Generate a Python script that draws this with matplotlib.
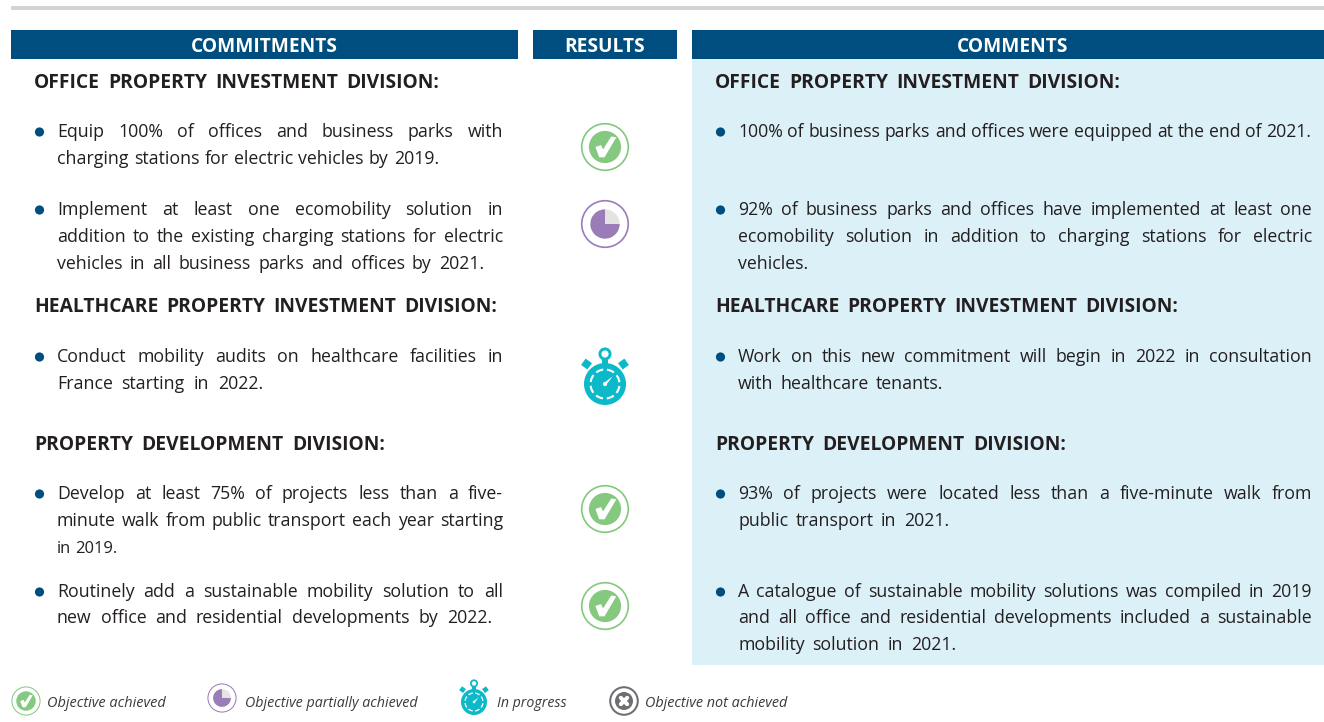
import matplotlib
matplotlib.use('Agg')
import matplotlib.pyplot as plt
from matplotlib.patches import Circle, Rectangle, Wedge, Polygon

NAVY = '#004E7F'
PANEL = '#DCF0F8'
GREY_BAR = '#D1D3D4'
INK = '#231F20'
GREEN = '#84C97F'
PURPLE = '#9A7CB8'
TEAL = '#0CB9C9'
DARK_GREY = '#6D6E71'

plt.rcParams['font.family'] = ['Open Sans', 'DejaVu Sans']

headers = ['COMMITMENTS', 'RESULTS', 'COMMENTS']
divisions = ['OFFICE PROPERTY INVESTMENT DIVISION:',
             'HEALTHCARE PROPERTY INVESTMENT DIVISION:',
             'PROPERTY DEVELOPMENT DIVISION:']
legend_labels = ['Objective achieved', 'Objective partially achieved',
                 'In progress', 'Objective not achieved']

# line text, y centre, right end of the line
left_lines = [
    ('Equip 100% of offices and business parks with', 131, 503),
    ('charging stations for electric vehicles by 2019.', 158, 439),
    ('Implement at least one ecomobility solution in', 209, 503),
    ('addition to the existing charging stations for electric', 236, 503),
    ('vehicles in all business parks and offices by 2021.', 263, 484),
    ('Conduct mobility audits on healthcare facilities in', 356, 503),
    ('France starting in 2022.', 383, 263),
    ('Develop at least 75% of projects less than a five-', 493, 503),
    ('minute walk from public transport each year starting', 520, 503),
    ('in 2019.', 547, 108),
    ('Routinely add a sustainable mobility solution to all', 591, 503),
    ('new office and residential developments by 2022.', 617, 492),
]
right_lines = [
    ('100% of business parks and offices were equipped at the end of 2021.', 131, 1311),
    ('92% of business parks and offices have implemented at least one', 209, 1312),
    ('ecomobility solution in addition to charging stations for electric', 236, 1312),
    ('vehicles.', 263, 812),
    ('Work on this new commitment will begin in 2022 in consultation', 356, 1312),
    ('with healthcare tenants.', 383, 943),
    ('93% of projects were located less than a five-minute walk from', 493, 1312),
    ('public transport in 2021.', 520, 949),
    ('A catalogue of sustainable mobility solutions was compiled in 2019', 591, 1312),
    ('and all office and residential developments included a sustainable', 617, 1312),
    ('mobility solution in 2021.', 644, 956),
]
left_bullets = [131, 209, 356, 493, 591]
right_bullets = [131, 209, 356, 493, 591]

fig = plt.figure(figsize=(13.24, 7.22), dpi=100)
ax = fig.add_axes([0, 0, 1, 1])
ax.set_xlim(0, 1324)
ax.set_ylim(722, 0)
ax.axis('off')
rend = fig.canvas.get_renderer()


def box(x0, y0, x1, y1, c):
    ax.add_patch(Rectangle((x0, y0), x1 - x0, y1 - y0, fc=c, ec='none'))


def word_w(s, size, **kw):
    t = ax.text(0, 0, s, fontsize=size, **kw)
    w = t.get_window_extent(rend).width
    t.remove()
    return w


def put_line(s, x0, x1, yc, size=12.8, **kw):
    # spread the words so the line runs from x0 to x1, like the justified original
    words = s.split(' ')
    natural = word_w(s, size, **kw)
    if natural > x1 - x0:
        size = max(size * (x1 - x0) / natural, size * 0.93)
    widths = [word_w(w, size, **kw) for w in words]
    gap = (x1 - x0 - sum(widths)) / max(len(words) - 1, 1)
    gap = max(gap, size * 0.3)  # words must never touch
    x = x0
    for w, ww in zip(words, widths):
        ax.text(x, yc + 6, w, fontsize=size, color=INK, ha='left', va='baseline', **kw)
        x += ww + gap


def ok_icon(cx, cy, r):
    ax.add_patch(Circle((cx, cy), r * 0.97, fc='white', ec=GREEN, lw=r * 0.05))
    ax.add_patch(Circle((cx, cy), r * 0.67, fc=GREEN, ec='none'))
    pts = [(-0.40, 0.0), (-0.17, -0.08), (-0.08, 0.10), (0.26, -0.44), (0.47, -0.40), (-0.02, 0.43), (-0.24, 0.43)]
    ax.add_patch(Polygon([(cx + a * r, cy + b * r) for a, b in pts], fc='white', ec='none'))


def part_icon(cx, cy, r):
    ax.add_patch(Circle((cx, cy), r * 0.97, fc='white', ec=PURPLE, lw=r * 0.05))
    ax.add_patch(Circle((cx, cy), r * 0.61, fc='#E3E3E3', ec='none'))
    # y axis is flipped, so 270 deg is straight up on screen
    ax.add_patch(Wedge((cx, cy), r * 0.61, 0, 270, fc=PURPLE, ec='none'))


def watch_icon(cx, cy, r):
    ax.add_patch(Circle((cx, cy - r * 1.43), r * 0.24, fc='none', ec=TEAL, lw=r * 0.1))
    ax.add_patch(Rectangle((cx - r * 0.12, cy - r * 1.2), r * 0.24, r * 0.3, fc=TEAL, ec='none'))
    for sgn in (-1, 1):
        ex, ey = cx + sgn * r * 0.88, cy - r * 0.95
        a, b = r * 0.26, r * 0.14
        ax.add_patch(Polygon([(ex - sgn * a, ey - b * 0.3), (ex + sgn * b * 0.3, ey - a),
                              (ex + sgn * a, ey + b * 0.3), (ex - sgn * b * 0.3, ey + a)],
                             fc=TEAL, ec='none'))
    ax.add_patch(Circle((cx, cy), r, fc=TEAL, ec='none'))
    # eight dashes of the inner ring
    for i in range(8):
        start = i * 45 + 8
        ax.add_patch(Wedge((cx, cy), r * 0.74, start, start + 30, width=r * 0.1, fc='white', ec='none'))
    ax.add_patch(Circle((cx, cy), r * 0.1, fc='white', ec='none'))
    ax.add_patch(Polygon([(cx - r * 0.05, cy - r * 0.05), (cx + r * 0.05, cy + r * 0.05),
                          (cx + r * 0.36, cy - r * 0.36)], fc='white', ec='none'))


def no_icon(cx, cy, r):
    ax.add_patch(Circle((cx, cy), r * 0.95, fc='white', ec=DARK_GREY, lw=r * 0.1))
    ax.add_patch(Circle((cx, cy), r * 0.62, fc=DARK_GREY, ec='none'))
    d = r * 0.22
    ax.plot([cx - d, cx + d], [cy - d, cy + d], color='white', lw=r * 0.2, solid_capstyle='round')
    ax.plot([cx - d, cx + d], [cy + d, cy - d], color='white', lw=r * 0.2, solid_capstyle='round')


# top rule, header bands, comment panel
box(11, 6, 1324, 10, GREY_BAR)
box(692, 59, 1324, 665, PANEL)
box(11, 30, 518, 59, NAVY)
box(533, 30, 677, 59, NAVY)
box(692, 30, 1324, 59, NAVY)
for s, xc in zip(headers, [264.5, 605, 1013]):
    ax.text(xc, 51.5, s, color='white', fontsize=13.8, fontweight='bold', ha='center', va='baseline')

# division headings, same in both columns
for s, yc, w in zip(divisions, [82, 307, 444], [405, 463, 351]):
    for x0 in (34, 715):
        put_line(s, x0, x0 + w, yc - 0.5, size=13.9, fontweight='bold')

for s, yc, x1 in left_lines:
    put_line(s, 57, x1, yc)
for s, yc, x1 in right_lines:
    put_line(s, 738, x1, yc)
for yc in left_bullets:
    ax.add_patch(Circle((39.5, yc + 1), 4.6, fc=NAVY, ec='none'))
for yc in right_bullets:
    ax.add_patch(Circle((720.5, yc + 1), 4.6, fc=NAVY, ec='none'))

# result icons
ok_icon(605, 147, 24)
part_icon(605, 224, 24)
watch_icon(605, 384, 21)
ok_icon(605, 509, 24)
ok_icon(605, 606, 24)

# legend
ok_icon(26, 701, 14.5)
part_icon(222, 698, 14.5)
watch_icon(474, 702, 13)
no_icon(624, 701, 14.5)
for s, x0, x1 in zip(legend_labels, [47, 245, 497, 645], [165, 417, 566, 787]):
    size = 13.0 * (x1 - x0) / word_w(s, 13.0, style='italic')
    ax.text(x0, 707, s, fontsize=size, style='italic', color='#3A3A3C', ha='left', va='baseline')

fig.savefig('out.png', dpi=100)
